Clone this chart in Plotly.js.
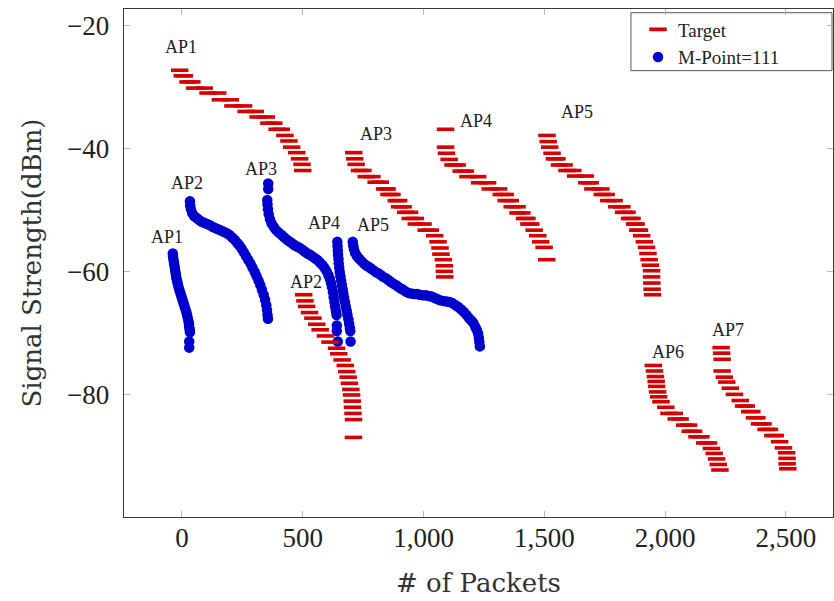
<!DOCTYPE html>
<html>
<head>
<meta charset="utf-8">
<script src="https://cdn.plot.ly/plotly-3.0.1.min.js"></script>
<style>html,body{margin:0;padding:0;background:#fff;}#chart{width:834px;height:601px;}</style>
</head>
<body>
<div id="chart"></div>
<script>
// ---------- Target (red dashes), one array pair per AP ----------
const targetAP1_x = [-9.5, 1, 10, 25, 41, 53, 92, 108, 148, 159, 200, 211, 255, 266, 303, 315, 349, 360, 380, 394, 411, 426, 443, 454, 475, 487, 497, 500];
const targetAP1_y = [-27.2, -28.1, -28.1, -29.1, -29.1, -30.1, -30.1, -30.9, -30.9, -32.0, -32.0, -33.0, -33.0, -33.9, -33.9, -34.8, -34.8, -35.8, -35.8, -36.8, -36.8, -37.8, -38.7, -39.7, -40.6, -41.6, -42.5, -43.5];

const targetAP2_x = [504, 509, 516, 528, 542, 558, 572, 594, 613, 640, 649, 663, 676, 682, 688, 693, 699, 702, 705, 706, 708, 710, 710];
const targetAP2_y = [-63.7, -64.7, -65.6, -66.6, -67.5, -68.5, -69.4, -70.4, -71.4, -72.4, -73.3, -74.3, -75.2, -76.2, -77.1, -78.1, -79.1, -80.0, -81.0, -82.0, -83.0, -84.0, -86.9];

const targetAP3_x = [711, 715, 721, 735, 749, 763, 786, 804, 821, 839, 849, 857, 869, 887, 897, 901, 915, 926, 942, 945, 966, 970, 998, 1011, 1028, 1046, 1060, 1068, 1072, 1082, 1086, 1086, 1088];
const targetAP3_y = [-40.6, -41.6, -42.5, -43.5, -43.5, -44.5, -44.5, -45.4, -45.4, -46.5, -46.5, -47.4, -47.4, -48.4, -48.4, -49.4, -49.4, -50.3, -50.3, -51.3, -51.3, -52.2, -52.2, -53.2, -53.2, -54.1, -55.1, -56.1, -57.1, -58.0, -59.0, -59.9, -60.8];

const targetAP4_x = [1091, 1091, 1095, 1106, 1122, 1139, 1156, 1173, 1184, 1224, 1232, 1265, 1276, 1311, 1322, 1338, 1342, 1359, 1367, 1387, 1391, 1407, 1418, 1428, 1436, 1444, 1458, 1473, 1485, 1499, 1510];
const targetAP4_y = [-36.8, -39.7, -40.7, -41.7, -42.6, -42.6, -43.6, -43.6, -44.5, -44.5, -45.5, -45.5, -46.5, -46.5, -47.4, -47.4, -48.4, -48.4, -49.4, -49.4, -50.4, -50.4, -51.3, -51.3, -52.2, -52.2, -53.2, -54.1, -55.1, -56.0, -58.0];

const targetAP5_x = [1511, 1516, 1522, 1532, 1542, 1552, 1563, 1582, 1594, 1618, 1630, 1669, 1676, 1690, 1701, 1734, 1740, 1756, 1767, 1789, 1800, 1821, 1828, 1842, 1853, 1863, 1874, 1880, 1887, 1894, 1903, 1914, 1923, 1929, 1934, 1939, 1944, 1944, 1945, 1946, 1948];
const targetAP5_y = [-37.8, -38.8, -39.7, -40.7, -41.6, -41.6, -42.6, -42.6, -43.5, -43.5, -44.4, -44.4, -45.5, -45.5, -46.5, -46.5, -47.4, -47.4, -48.4, -48.4, -49.4, -49.4, -50.3, -50.3, -51.3, -51.3, -52.2, -52.2, -53.2, -53.2, -54.1, -55.1, -56.0, -57.0, -58.0, -58.9, -59.8, -60.8, -61.8, -62.8, -63.7];

const targetAP6_x = [1951, 1956, 1960, 1963, 1965, 1969, 1973, 1983, 2003, 2016, 2038, 2046, 2062, 2081, 2097, 2104, 2118, 2132, 2148, 2164, 2180, 2192, 2203, 2213, 2220, 2227];
const targetAP6_y = [-75.2, -76.1, -77.0, -77.8, -78.6, -79.5, -80.3, -81.1, -82.0, -83.0, -83.0, -83.9, -83.9, -84.9, -84.9, -85.9, -85.9, -86.8, -86.8, -87.8, -87.8, -88.7, -89.5, -90.4, -91.3, -92.2];

const targetAP7_x = [2232, 2234, 2236, 2236, 2245, 2255, 2270, 2287, 2311, 2325, 2336, 2350, 2359, 2370, 2380, 2391, 2405, 2418, 2432, 2446, 2456, 2474, 2490, 2503, 2505, 2505, 2508];
const targetAP7_y = [-72.3, -73.2, -74.2, -76.1, -77.1, -77.9, -78.9, -79.9, -80.9, -81.8, -81.8, -82.7, -82.7, -83.7, -83.7, -84.7, -84.7, -85.6, -85.6, -86.6, -86.6, -87.6, -88.6, -89.4, -90.3, -91.2, -92.0];

// ---------- M-Point=111 (blue circles), one array pair per AP ----------
const mpAP1_x = [-38, -37, -35, -33, -31, -29, -27, -25, -23, -20, -17, -14, -10, -6, -2, 2, 6, 10, 14, 18, 21, 24, 27, 29, 30, 32, 33, 30, 30];
const mpAP1_y = [-57, -57.5, -58, -58.5, -59, -59.5, -60, -60.5, -61, -61.5, -62, -62.5, -63, -63.5, -64, -64.5, -65, -65.5, -66, -66.5, -67, -67.5, -68, -68.5, -69, -69.4, -69.8, -71.3, -72.3];

const mpAP2_x = [33, 34, 37, 42, 50, 60, 70, 80, 92, 104, 116, 128, 140, 152, 164, 175, 186, 197, 208, 219, 229, 238, 247, 256, 265, 274, 283, 292, 301, 309, 317, 324, 331, 338, 344, 349, 352, 354, 356];
const mpAP2_y = [-48.5, -49.2, -49.8, -50.4, -50.9, -51.2, -51.5, -51.8, -52.0, -52.2, -52.4, -52.7, -52.9, -53.1, -53.3, -53.5, -53.7, -54.0, -54.4, -54.8, -55.3, -55.7, -56.2, -56.8, -57.4, -58.0, -58.6, -59.3, -60.0, -60.7, -61.4, -62.1, -62.9, -63.7, -64.5, -65.4, -66.2, -67.0, -67.6];

const mpAP3_x = [357, 357, 353, 354, 356, 359, 364, 371, 380, 390, 401, 413, 424, 436, 447, 458, 468, 478, 488, 499, 509, 520, 530, 541, 552, 562, 572, 582, 591, 599, 606, 612, 617, 621, 625, 628, 631, 634, 637, 640, 641, 641, 645];
const mpAP3_y = [-45.6, -46.5, -48.3, -49.0, -49.8, -50.6, -51.4, -52.1, -52.7, -53.2, -53.6, -54.0, -54.4, -54.8, -55.1, -55.4, -55.7, -55.9, -56.1, -56.4, -56.7, -57.0, -57.2, -57.5, -57.8, -58.1, -58.5, -58.9, -59.4, -59.9, -60.5, -61.1, -61.8, -62.5, -63.3, -64.1, -64.9, -65.6, -66.3, -67.0, -68.7, -69.6, -71.3];

const mpAP4_x = [643, 644, 645, 646, 648, 649, 651, 653, 656, 659, 662, 665, 668, 671, 675, 678, 682, 685, 689, 692, 695, 697, 698];
const mpAP4_y = [-55.1, -55.8, -56.5, -57.2, -57.9, -58.6, -59.3, -60.0, -60.7, -61.4, -62.1, -62.8, -63.5, -64.2, -64.9, -65.6, -66.3, -67.0, -67.7, -68.4, -69.1, -69.6, -71.3];

const mpAP5_x = [707, 709, 712, 717, 724, 733, 742, 752, 762, 771, 781, 792, 802, 812, 823, 833, 844, 854, 864, 875, 885, 895, 906, 916, 927, 937, 949, 961, 973, 985, 997, 1009, 1021, 1033, 1045, 1056, 1068, 1082, 1096, 1109, 1121, 1133, 1144, 1156, 1167, 1178, 1188, 1198, 1206, 1214, 1220, 1226, 1229, 1231, 1233];
const mpAP5_y = [-55.1, -55.7, -56.3, -56.9, -57.4, -57.8, -58.2, -58.6, -58.9, -59.1, -59.4, -59.7, -60.0, -60.2, -60.5, -60.8, -61.0, -61.3, -61.6, -61.9, -62.1, -62.4, -62.7, -62.9, -63.2, -63.4, -63.5, -63.6, -63.6, -63.7, -63.8, -63.8, -63.9, -64.0, -64.2, -64.4, -64.6, -64.7, -64.8, -64.9, -65.1, -65.4, -65.7, -66.1, -66.5, -67.0, -67.5, -67.9, -68.3, -68.9, -69.4, -70.0, -70.7, -71.4, -72.1];

// ---------- AP labels ----------
const targetLabels   = ['AP1', 'AP2', 'AP3', 'AP4', 'AP5', 'AP6', 'AP7'];
const targetLabel_x  = [-4, 513, 803, 1217, 1635, 2012, 2260];
const targetLabel_y  = [-23.4, -61.6, -37.6, -35.4, -34.0, -73.0, -69.4];
const mpLabels       = ['AP1', 'AP2', 'AP3', 'AP4', 'AP5'];
const mpLabel_x      = [-62, 21, 327, 588, 791];
const mpLabel_y      = [-54.3, -45.5, -43.3, -52.0, -52.4];

// ---------- axes ----------
const xTickVals   = [0, 500, 1000, 1500, 2000, 2500];
const xTickLabels = ['0', '500', '1,000', '1,500', '2,000', '2,500'];
const yTickVals   = [-80, -60, -40, -20];

// ---------- build ----------
const targetX = [].concat(targetAP1_x, targetAP2_x, targetAP3_x, targetAP4_x, targetAP5_x, targetAP6_x, targetAP7_x);
const targetY = [].concat(targetAP1_y, targetAP2_y, targetAP3_y, targetAP4_y, targetAP5_y, targetAP6_y, targetAP7_y);
const mpX = [].concat(mpAP1_x, mpAP2_x, mpAP3_x, mpAP4_x, mpAP5_x);
const mpY = [].concat(mpAP1_y, mpAP2_y, mpAP3_y, mpAP4_y, mpAP5_y);

const RED = '#d40000';
const BLUE = '#0000cc';
const SERIF = 'Liberation Serif, Times New Roman, serif';
const WIDE_SERIF = 'DejaVu Serif, serif';

const traces = [
  {
    type: 'scatter', mode: 'markers', name: 'M-Point=111',
    x: mpX, y: mpY,
    marker: {symbol: 'circle', size: 10.5, color: BLUE, line: {width: 0}},
    hoverinfo: 'skip'
  },
  {
    type: 'scatter', mode: 'markers', name: 'Target',
    x: targetX, y: targetY,
    marker: {symbol: 'line-ew', size: 12.5, color: RED, line: {color: RED, width: 3.6}},
    hoverinfo: 'skip'
  }
];

const annotations = [];
targetLabels.forEach((t, i) => annotations.push({
  x: targetLabel_x[i], y: targetLabel_y[i], xref: 'x', yref: 'y', text: t, showarrow: false,
  font: {family: SERIF, size: 18, color: '#222'}
}));
mpLabels.forEach((t, i) => annotations.push({
  x: mpLabel_x[i], y: mpLabel_y[i], xref: 'x', yref: 'y', text: t, showarrow: false,
  font: {family: SERIF, size: 18, color: '#222'}
}));

const axisCommon = {
  showgrid: false, zeroline: false, showline: true, linecolor: '#3a3a3a', linewidth: 1.3,
  mirror: 'ticks', ticks: 'inside', ticklen: 6, tickwidth: 1, tickcolor: '#b8b8b8',
  tickfont: {family: SERIF, size: 27, color: '#222'}
};

const layout = {
  width: 834, height: 601,
  margin: {l: 124, r: 1, t: 9, b: 84},
  paper_bgcolor: '#fff', plot_bgcolor: '#fff',
  showlegend: true,
  legend: {
    x: 0.725, y: 0.997, xanchor: 'left', yanchor: 'top',
    bgcolor: 'rgba(0,0,0,0)', borderwidth: 0, traceorder: 'reversed',
    font: {family: SERIF, size: 19, color: '#222'}, itemwidth: 30, tracegroupgap: 0
  },
  xaxis: Object.assign({}, axisCommon, {
    range: [-240, 2695], tickmode: 'array', tickvals: xTickVals, ticktext: xTickLabels,
    ticklabelstandoff: -4,
    title: {text: '# of Packets', font: {family: WIDE_SERIF, size: 26, color: '#333'}, standoff: 22}
  }),
  yaxis: Object.assign({}, axisCommon, {
    range: [-99.84, -17.24], tickmode: 'array', tickvals: yTickVals,
    ticklabelstandoff: 8,
    title: {text: 'Signal Strength(dBm)', font: {family: WIDE_SERIF, size: 26, color: '#333'}, standoff: 18}
  }),
  shapes: [{
    type: 'rect', xref: 'paper', yref: 'paper', x0: 0.715, x1: 0.9986, y0: 0.8786, y1: 0.9927,
    line: {color: '#555', width: 1}, fillcolor: '#fff', layer: 'below'
  }],
  annotations: annotations
};

Plotly.newPlot('chart', traces, layout, {staticPlot: true, displayModeBar: false});
</script>
</body>
</html>
